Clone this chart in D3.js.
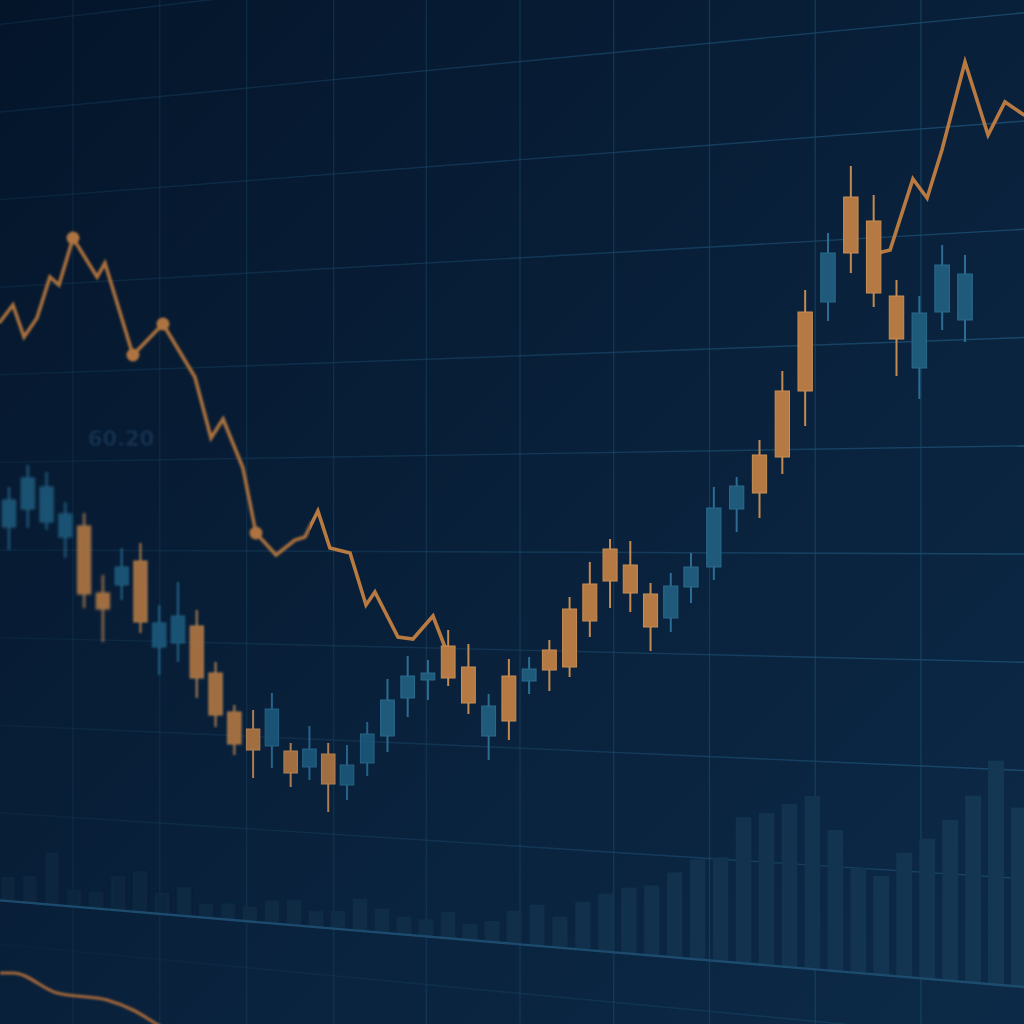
<!DOCTYPE html>
<html><head><meta charset="utf-8">
<script src="https://cdn.jsdelivr.net/npm/d3@7"></script>
<style>html,body{margin:0;padding:0;background:#081c30;overflow:hidden}</style>
</head><body>
<svg id="chart" width="1024" height="1024"></svg>
<script>
// ---------- DATA ----------
const candleOpen  = [51.3,53.1,51.8,50.3,51.4,44.7,45.5,47.9,39.3,39.7,41.4,36.7,32.8,31.1,29.4,28.9,27.3,28.6,25.5,27.7,30.4,34.2,36.0,39.4,37.3,30.4,36.4,35.9,39.0,43.1,45.6,49.1,47.5,44.6,42.2,45.3,47.3,53.1,58.5,64.9,72.8,73.8,84.3,81.9,74.4,67.2,72.8,72.0];
const candleHigh  = [55.3,57.5,56.8,53.8,52.7,46.5,49.2,49.7,43.5,45.8,43.0,37.8,33.5,33.0,34.7,29.7,31.4,29.7,29.5,31.8,36.1,38.4,38.0,41.0,39.6,34.6,38.1,38.3,40.0,44.3,47.8,50.1,49.9,45.7,46.7,48.7,55.3,56.3,60.0,66.9,75.0,80.7,87.4,84.5,76.0,74.4,79.5,78.5];
const candleLow   = [49.0,51.2,51.0,48.2,43.2,39.8,44.0,40.7,36.5,37.8,34.2,31.3,28.5,26.2,27.2,25.3,26.0,22.8,24.0,26.4,28.8,32.3,34.0,35.4,32.6,28.0,30.0,34.6,34.9,36.3,40.3,43.2,42.8,38.9,40.8,43.7,46.0,50.8,52.2,56.6,61.4,71.9,76.7,73.3,66.4,64.1,71.0,69.8];
const candleClose = [54.0,56.2,55.3,52.6,44.6,43.1,47.3,41.8,41.7,42.4,36.2,32.5,29.6,29.0,33.1,26.7,29.1,25.6,27.5,30.6,34.0,36.4,36.7,36.2,33.7,33.4,31.9,37.1,37.0,37.3,41.9,45.9,44.7,41.3,45.4,47.3,53.2,55.4,54.7,58.3,64.9,78.7,78.7,74.7,70.1,72.7,77.5,76.6];

// overlay line (position in candle-index units, value in price units; null = gap)
const lineIdx = [-0.48,0.21,0.80,1.49,2.18,2.66,3.41,4.69,5.11,6.60,8.20,9.90,10.76,11.40,12.46,13.15,14.22,15.23,15.76,16.45,17.09,18.15,18.94,19.38,20.52,21.26,22.25,22.84,32.0,42.84,43.19,43.72,44.72,45.34,45.99,47.00,48.01,48.75,49.59];
const lineVal = [71.8,73.5,70.3,72.2,76.3,75.5,80.2,76.3,77.7,68.5,71.6,66.3,60.2,62.1,57.2,50.7,48.5,50.0,50.3,52.9,49.2,48.7,43.5,44.8,40.3,40.1,42.4,39.3,null,78.5,78.7,79.0,86.1,84.2,89.0,97.8,90.5,93.8,92.5];
const lineMarkers = [6,9,10,15];

// volume bars
const volumes = [240,270,520,170,170,340,410,210,290,140,160,150,230,250,160,180,320,240,180,170,260,160,210,330,410,310,480,580,660,700,850,1000,1040,1460,1520,1630,1730,1410,1050,990,1240,1400,1610,1870,2240,1790];

// lower oscillator
const oscIdx = [-0.48,0.21,2.56,5.22,6.60,8.04,9.0];
const oscVal = [72.5,72.5,55.8,50.0,41.7,28.3,20.0];

const priceLabel = "60.20";

// ---------- SETUP ----------
const W = 1024, H = 1024;
const svg = d3.select('#chart');
const defs = svg.append('defs');

const bg = defs.append('linearGradient').attr('id','bg').attr('x1',0).attr('y1',0).attr('x2',1).attr('y2',1);
bg.append('stop').attr('offset','0%').attr('stop-color','#04152a');
bg.append('stop').attr('offset','50%').attr('stop-color','#09203a');
bg.append('stop').attr('offset','100%').attr('stop-color','#0c2a47');

const hg = defs.append('linearGradient').attr('id','hgrid').attr('gradientUnits','userSpaceOnUse')
  .attr('x1',0).attr('y1',0).attr('x2',W).attr('y2',0);
hg.append('stop').attr('offset','0%').attr('stop-color','#0c263f');
hg.append('stop').attr('offset','100%').attr('stop-color','#1c4f73');

const vg = defs.append('linearGradient').attr('id','volg').attr('gradientUnits','userSpaceOnUse')
  .attr('x1',0).attr('y1',0).attr('x2',W).attr('y2',0);
vg.append('stop').attr('offset','0%').attr('stop-color','#0d263e');
vg.append('stop').attr('offset','100%').attr('stop-color','#143754');

[0.5,1.0,1.6].forEach((s,i)=>{
  defs.append('filter').attr('id','blur'+i).attr('x','-50%').attr('y','-50%').attr('width','200%').attr('height','200%')
    .append('feGaussianBlur').attr('stdDeviation',s);
});
defs.append('clipPath').attr('id','clipL').append('rect').attr('x',-20).attr('y',0).attr('width',330).attr('height',H);
defs.append('clipPath').attr('id','clipR').append('rect').attr('x',310).attr('y',0).attr('width',W).attr('height',H);

svg.append('rect').attr('width',W).attr('height',H).attr('fill','url(#bg)');

// scales
const xScale = d3.scaleLinear().domain([0,18,35,47]).range([9,347,691,965]);
const yScale = d3.scaleLinear().domain([0,104]).range([1040,0]);
const vxScale = d3.scaleLinear().domain([0,23,45]).range([8,514,1019]);
const vScale = d3.scaleLinear().domain([0,2500]).range([0,250]);
const oscScale = d3.scaleLinear().domain([0,100]).range([1060,940]);

// perspective grid rows (left edge / right edge)
const rowLeft = k => 550 + 87.6*(k-5);
const rowRight = k => 554 + 108.25*(k-5);
const baseY = x => rowLeft(9) + (rowRight(9)-rowLeft(9))*x/W;

// ---------- GRID ----------
const grid = svg.append('g');
const rows = d3.range(-1,9);
rows.push(9.5);
grid.selectAll('line.h').data(rows).join('line').attr('class','h')
  .attr('x1',0).attr('x2',W).attr('y1',d=>rowLeft(d)).attr('y2',d=>rowRight(d))
  .attr('stroke','url(#hgrid)').attr('stroke-width',1.4).attr('opacity',d=>d===9.5?0.55:0.85);

const vticks = d3.range(0,10).map(j=>3.4+4.63*j);
grid.selectAll('line.v').data(vticks).join('line').attr('class','v')
  .attr('x1',d=>xScale(d)).attr('x2',d=>xScale(d)).attr('y1',0).attr('y2',H)
  .attr('stroke','#1a4b6d').attr('stroke-width',1.3)
  .attr('opacity',d=>0.22+0.5*xScale(d)/W);

// ---------- VOLUME ----------
const vol = svg.append('g');
vol.selectAll('rect').data(volumes).join('rect')
  .attr('x',(d,i)=>vxScale(i)-(6.8+1.2*i/45))
  .attr('width',(d,i)=>13.6+2.4*i/45)
  .attr('y',(d,i)=>baseY(vxScale(i))-vScale(d))
  .attr('height',d=>vScale(d))
  .attr('fill','url(#volg)')
  .attr('filter',(d,i)=>vxScale(i)<250?'url(#blur1)':null);
vol.append('line').attr('x1',0).attr('x2',W).attr('y1',baseY(0)).attr('y2',baseY(W))
  .attr('stroke','#1c4b6e').attr('stroke-width',2.4);

// ---------- LABEL ----------
svg.append('text').attr('x',121).attr('y',446).attr('text-anchor','middle')
  .attr('font-family','DejaVu Sans, sans-serif').attr('font-weight','bold').attr('font-size',21)
  .attr('fill','#132f4b').attr('filter','url(#blur1)').text(priceLabel);

// ---------- OVERLAY LINE ----------
const pts = lineIdx.map((d,i)=>({i:d, v:lineVal[i]}));
const lineGen = d3.line().defined(d=>d.v!==null).x(d=>xScale(d.i)).y(d=>yScale(d.v));
const lineCol = '#b97a41';
const lineL = svg.append('g').attr('clip-path','url(#clipL)').append('g').attr('filter','url(#blur1)');
const lineR = svg.append('g').attr('clip-path','url(#clipR)');
[lineL,lineR].forEach((g,j)=>{
  g.append('path').datum(pts).attr('d',lineGen).attr('fill','none')
    .attr('stroke',j===0?'#a96f3c':lineCol).attr('stroke-width',3.6)
    .attr('stroke-linejoin','miter').attr('stroke-linecap','round');
});
lineL.selectAll('circle').data(lineMarkers).join('circle')
  .attr('cx',d=>xScale(lineIdx[d])).attr('cy',d=>yScale(lineVal[d])).attr('r',6.5)
  .attr('fill','#ad733f');

// oscillator line
const oscPts = oscIdx.map((d,i)=>({i:d,v:oscVal[i]}));
svg.append('path').datum(oscPts)
  .attr('d',d3.line().curve(d3.curveMonotoneX).x(d=>xScale(d.i)).y(d=>oscScale(d.v)))
  .attr('fill','none').attr('stroke','#a2673a').attr('stroke-width',3.2).attr('filter','url(#blur1)');

// ---------- CANDLES ----------
const candles = candleOpen.map((o,i)=>({i,o,h:candleHigh[i],l:candleLow[i],c:candleClose[i]}));
const blurFor = x => x<120?'url(#blur2)':(x<250?'url(#blur1)':(x<380?'url(#blur0)':null));
const cg = svg.append('g').selectAll('g').data(candles).join('g')
  .attr('filter',d=>blurFor(xScale(d.i)))
  .attr('opacity',d=>xScale(d.i)<380?0.88:1);
const up = d => d.c >= d.o;
cg.append('line')
  .attr('x1',d=>xScale(d.i)).attr('x2',d=>xScale(d.i))
  .attr('y1',d=>yScale(d.h)).attr('y2',d=>yScale(d.l))
  .attr('stroke',d=>up(d)?'#2b6d93':'#c58a52').attr('stroke-width',2);
cg.append('rect')
  .attr('x',d=>xScale(d.i)-(6.5+0.8*d.i/47))
  .attr('width',d=>13+1.6*d.i/47)
  .attr('y',d=>yScale(Math.max(d.o,d.c)))
  .attr('height',d=>Math.max(2,yScale(Math.min(d.o,d.c))-yScale(Math.max(d.o,d.c))))
  .attr('fill',d=>up(d)?'#1f5a7b':'#b57943')
  .attr('stroke',d=>up(d)?'#2a6b8e':'#c98e55').attr('stroke-width',1);
</script>
</body></html>
